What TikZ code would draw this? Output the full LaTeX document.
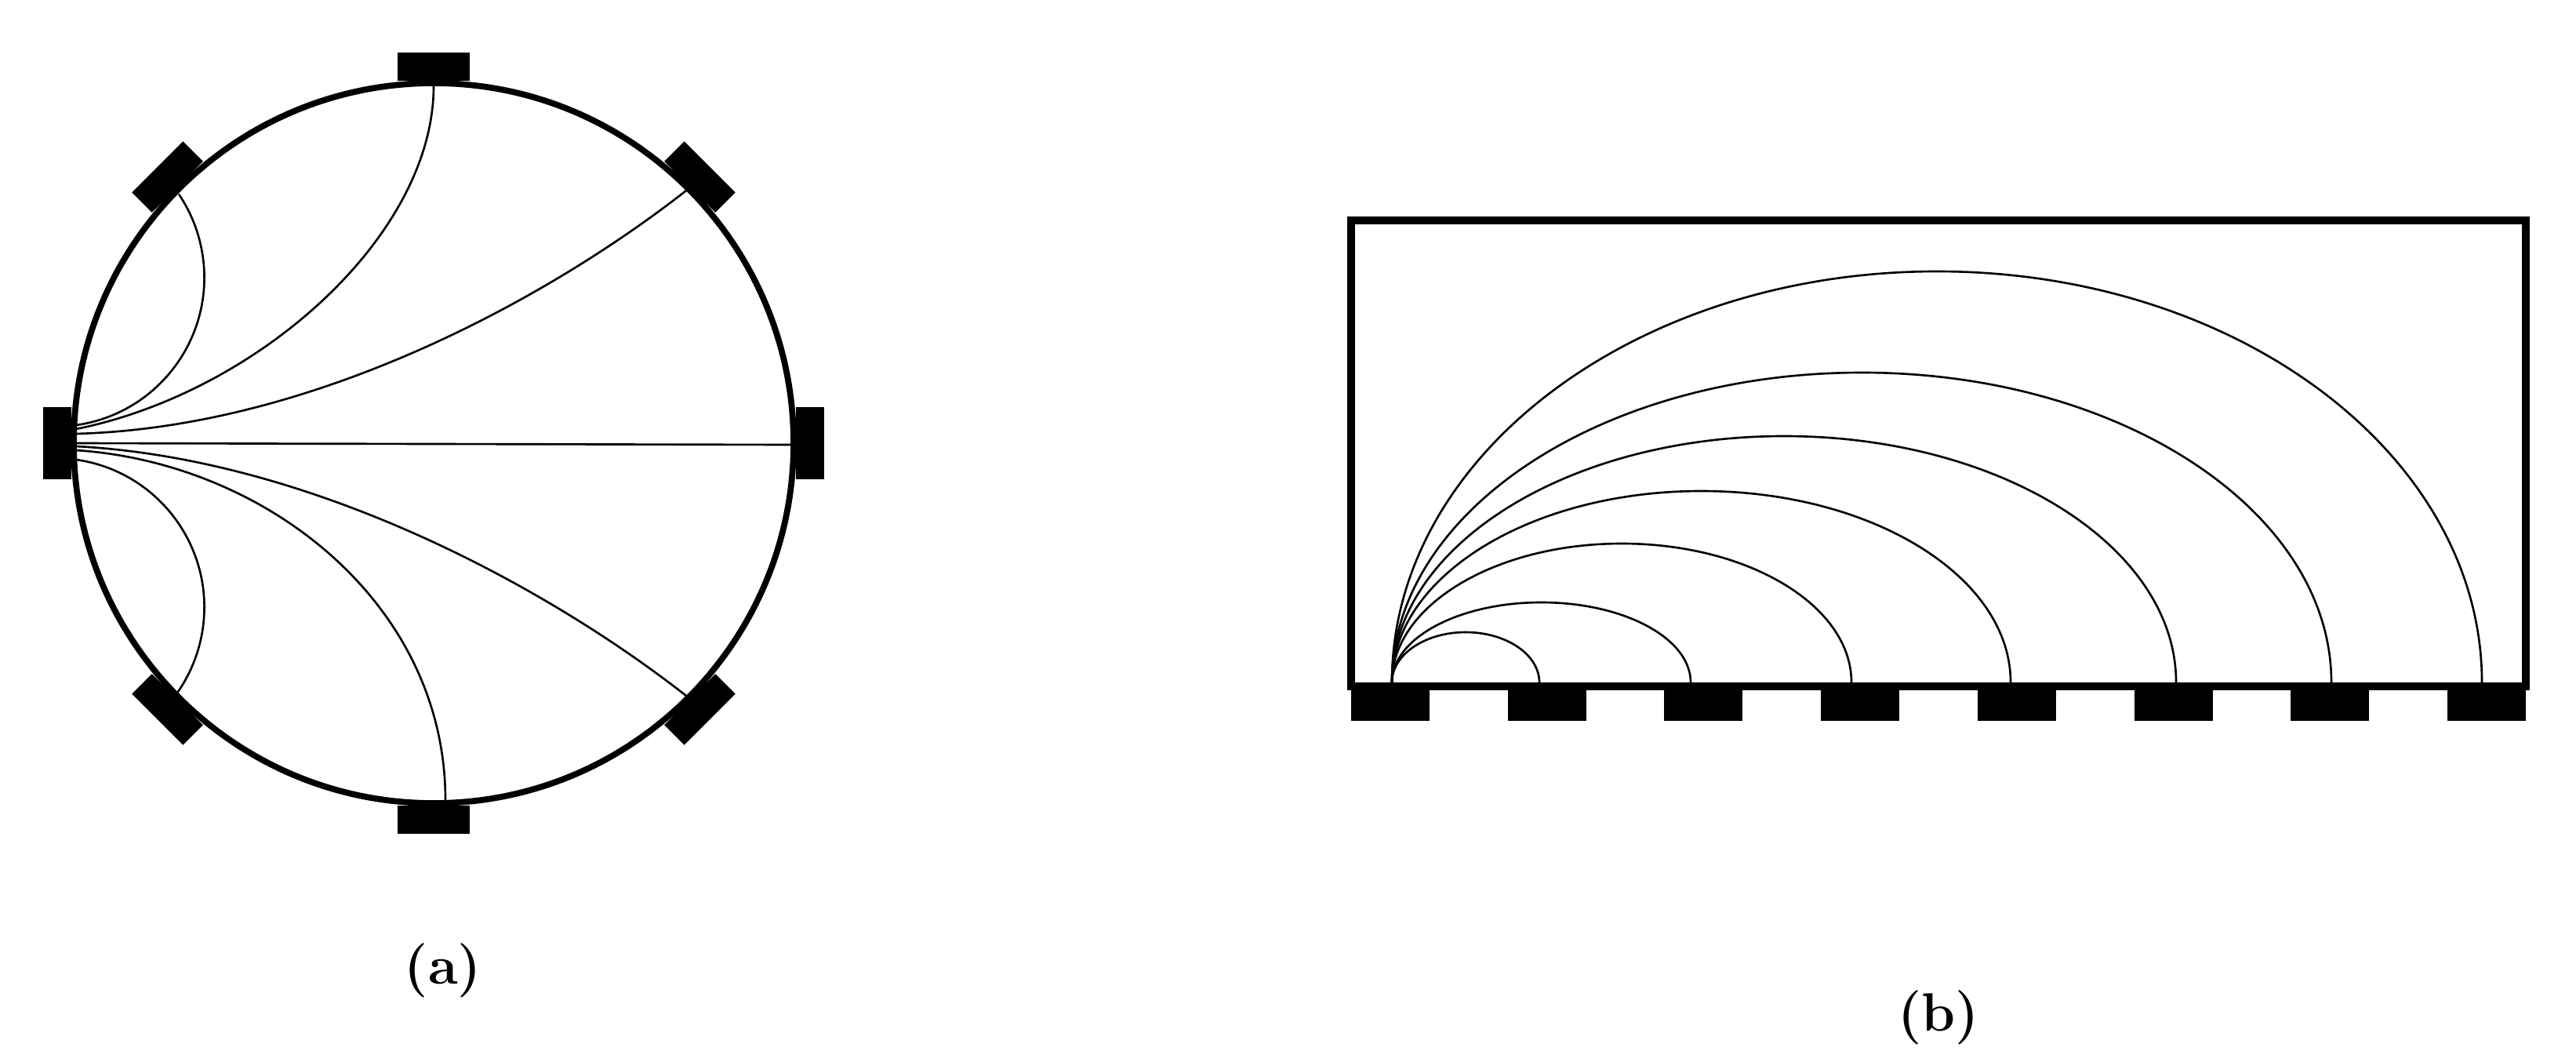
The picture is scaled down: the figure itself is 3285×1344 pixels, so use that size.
\documentclass[tikz,border=0pt]{standalone}
\usepackage{fontspec}
\begin{document}
\begin{tikzpicture}[x=0.01cm,y=0.01cm,
  wall/.style={line width=2.2pt},
  field/.style={line width=0.75pt},
  rim/.style={line width=2.85pt},
  pad/.style={fill=black},
  lab/.style={font=\fontsize{19.6}{24}\selectfont\bfseries, inner sep=0pt}]
\useasboundingbox (0,0) rectangle (3285,1344);
% ---------- panel (a) ----------
\coordinate (O) at (553,779);
\draw[wall] (O) circle[radius=459];
\foreach \a in {0,45,...,315}
  \fill[pad,shift={(O)},rotate=\a] (462,-46) rectangle (498,46);
\coordinate (sUL) at (97,802);
\coordinate (sT)  at (97,797);  \coordinate (eT)  at (553,1234);
\coordinate (sUR) at (97,791);  \coordinate (eUR) at (875,1101);
\coordinate (sH)  at (97,779);  \coordinate (eH)  at (1009,777);
\coordinate (sLR) at (97,775);  \coordinate (eLR) at (875,457);
\coordinate (sB)  at (97,770);  \coordinate (eB)  at (568,324);
\coordinate (sLL) at (97,758);
\draw[field] (sUL) arc[start angle=-82, end angle=34, radius=190];
\draw[field] (sT) .. controls (330,844) and (553,1044) .. (eT);
\draw[field] (sUR) .. controls (400,799) and (700,964) .. (eUR);
\draw[field] (sH) -- (eH);
\draw[field] (sLR) .. controls (400,759) and (700,594) .. (eLR);
\draw[field] (sB) .. controls (340,754) and (568,574) .. (eB);
\draw[field] (sLL) arc[start angle=82, end angle=-35, radius=190];
\node[lab] (la) at (565,107) {(a)};
% ---------- panel (b) ----------
\draw[rim] (1723,469) rectangle (3221,1063);
\foreach \k in {0,...,7}
  \fill[pad] ({1723+199.7*\k},425) rectangle ++(100,39);
\coordinate (src) at (1775,474);
\foreach \e/\h in {1963/64, 2156/102, 2361/177, 2564/244, 2775/314, 2973/395, 3165/524}
  \draw[field] (src) arc[start angle=180,end angle=0,x radius={(\e-1775)/2},y radius=\h];
\node[lab] (lb) at (2472,47) {(b)};
\end{tikzpicture}
\end{document}
